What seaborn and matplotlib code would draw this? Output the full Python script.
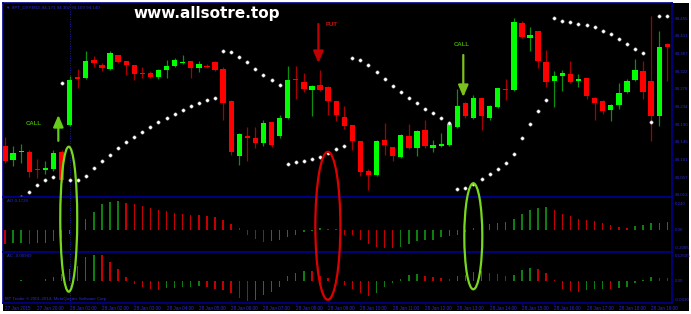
import numpy as np
import pandas as pd
import matplotlib
matplotlib.use("Agg")
import matplotlib.pyplot as plt
import seaborn as sns
from matplotlib.patches import Ellipse, Rectangle
from matplotlib.transforms import blended_transform_factory

# ---------------- data (M15 candles) ----------------
opens = [94.1350, 94.1000, 94.1213, 94.1200, 94.0775, 94.0738, 94.0763, 94.1188, 94.1875, 94.3063,
         94.3050, 94.3488, 94.3363, 94.3263, 94.3613, 94.3463, 94.3363, 94.3163, 94.3163, 94.3063,
         94.3250, 94.3350, 94.3438, 94.3463, 94.3288, 94.3350, 94.3438, 94.3275, 94.2463, 94.1088,
         94.1588, 94.1538, 94.1413, 94.1938, 94.1588, 94.2038, 94.3025, 94.2938, 94.2738, 94.2863,
         94.2813, 94.2463, 94.2063, 94.1863, 94.1463, 94.0713, 94.0625, 94.1488, 94.1313, 94.1063,
         94.1588, 94.1288, 94.1750, 94.1288, 94.1338, 94.1363, 94.1813, 94.2413, 94.2038, 94.2538,
         94.2038, 94.2313, 94.2775, 94.2750, 94.4413, 94.4038, 94.4213, 94.3438, 94.2975, 94.3100,
         94.3150, 94.2988, 94.3038, 94.2538, 94.2463, 94.2238, 94.2375, 94.2688, 94.2988, 94.3225,
         94.2963, 94.2088, 94.3888]
highs = [94.1575, 94.1350, 94.1400, 94.1250, 94.1025, 94.0975, 94.1250, 94.1250, 94.3100, 94.3275,
         94.3725, 94.3600, 94.3425, 94.3713, 94.3625, 94.3475, 94.3375, 94.3325, 94.3225, 94.3275,
         94.3500, 94.3550, 94.3625, 94.3475, 94.3475, 94.3400, 94.3475, 94.3325, 94.2500, 94.1675,
         94.1825, 94.1825, 94.2000, 94.1950, 94.2125, 94.3350, 94.3338, 94.3163, 94.2875, 94.3250,
         94.2850, 94.2475, 94.2350, 94.1875, 94.1475, 94.0763, 94.1500, 94.1913, 94.1325, 94.1650,
         94.1900, 94.1750, 94.1988, 94.1500, 94.1663, 94.1963, 94.2775, 94.2450, 94.2625, 94.2550,
         94.2375, 94.2800, 94.3013, 94.4538, 94.4463, 94.4313, 94.4225, 94.3738, 94.3225, 94.3238,
         94.3475, 94.3150, 94.3050, 94.2575, 94.2500, 94.2400, 94.2913, 94.3025, 94.3513, 94.3475,
         94.4600, 94.4213, 94.3925]
lows = [94.0925, 94.0850, 94.0925, 94.0575, 94.0550, 94.0650, 94.0725, 94.0450, 94.1850, 94.2800,
        94.3025, 94.3325, 94.3225, 94.3250, 94.3425, 94.3125, 94.3000, 94.3050, 94.3050, 94.3025,
        94.3050, 94.3325, 94.3400, 94.3050, 94.3200, 94.3300, 94.3225, 94.2000, 94.1125, 94.0875,
        94.0975, 94.1300, 94.1350, 94.1325, 94.1550, 94.2025, 94.2525, 94.2688, 94.2088, 94.2725,
        94.2125, 94.1963, 94.1763, 94.1238, 94.0588, 94.0238, 94.0600, 94.1125, 94.0963, 94.1050,
        94.1275, 94.1088, 94.1300, 94.1188, 94.1325, 94.1350, 94.1800, 94.2038, 94.2025, 94.1750,
        94.2000, 94.2300, 94.2500, 94.2725, 94.4050, 94.3713, 94.3288, 94.2813, 94.2313, 94.2713,
        94.2913, 94.2813, 94.2525, 94.2000, 94.2150, 94.1963, 94.2263, 94.2675, 94.2975, 94.2525,
        94.1463, 94.1838, 94.2975]
closes = [94.0975, 94.1175, 94.1225, 94.0700, 94.0763, 94.0788, 94.1163, 94.0500, 94.3000, 94.3025,
          94.3475, 94.3413, 94.3288, 94.3663, 94.3438, 94.3375, 94.3138, 94.3150, 94.3063, 94.3238,
          94.3350, 94.3488, 94.3450, 94.3288, 94.3388, 94.3338, 94.3250, 94.2413, 94.1200, 94.1638,
          94.1550, 94.1413, 94.1913, 94.1363, 94.2038, 94.3000, 94.3000, 94.2775, 94.2850, 94.2738,
          94.2463, 94.2113, 94.1850, 94.1463, 94.0688, 94.0625, 94.1463, 94.1363, 94.1088, 94.1625,
          94.1288, 94.1713, 94.1338, 94.1375, 94.1400, 94.1888, 94.2350, 94.2088, 94.2538, 94.2088,
          94.2338, 94.2788, 94.2763, 94.4438, 94.4063, 94.4125, 94.3463, 94.2938, 94.3100, 94.3175,
          94.2938, 94.3013, 94.2588, 94.2413, 94.2213, 94.2375, 94.2663, 94.2963, 94.3238, 94.2688,
          94.2088, 94.3813, 94.3813]
# Parabolic SAR dots
sar = [93.9750, 93.9925, 94.0075, 94.0208, 94.0375, 94.0500, 94.0568, 94.2918, 94.0500, 94.0500,
       94.0608, 94.0793, 94.0975, 94.1133, 94.1293, 94.1443, 94.1583, 94.1708, 94.1833, 94.1950,
       94.2050, 94.2150, 94.2250, 94.2343, 94.2418, 94.2500, 94.2558, 94.3733, 94.3700, 94.3583,
       94.3443, 94.3275, 94.3125, 94.3000, 94.2875, 94.0900, 94.0943, 94.0983, 94.1025, 94.1083,
       94.1175, 94.1263, 94.1358, 94.3543, 94.3500, 94.3375, 94.3208, 94.3018, 94.2850, 94.2693,
       94.2558, 94.2418, 94.2283, 94.2168, 94.2050, 94.1933, 94.0268, 94.0293, 94.0400, 94.0518,
       94.0650, 94.0768, 94.0918, 94.1143, 94.1543, 94.1900, 94.2225, 94.2500, 94.4543, 94.4483,
       94.4443, 94.4408, 94.4368, 94.4318, 94.4233, 94.4150, 94.4018, 94.3893, 94.3775, 94.3668,
       94.1958, 94.4608, 94.4608]
# Awesome Oscillator
ao = [-0.126, -0.123, -0.120, -0.126, -0.120, -0.117, -0.102, -0.075, -0.039, 0.024,
      0.093, 0.159, 0.228, 0.249, 0.258, 0.243, 0.228, 0.210, 0.195, 0.174,
      0.168, 0.150, 0.144, 0.135, 0.129, 0.123, 0.114, 0.084, 0.054, 0.015,
      -0.045, -0.084, -0.111, -0.105, -0.090, -0.066, -0.045, -0.021, -0.009, 0.015,
      0.009, 0.003, -0.045, -0.051, -0.096, -0.129, -0.156, -0.165, -0.168, -0.156,
      -0.129, -0.105, -0.096, -0.090, -0.069, -0.060, -0.045, -0.024, 0.012, 0.030,
      0.051, 0.060, 0.069, 0.096, 0.144, 0.174, 0.195, 0.204, 0.174, 0.144,
      0.120, 0.096, 0.084, 0.075, 0.063, 0.042, 0.027, 0.018, 0.033, 0.042,
      0.057, 0.063, 0.072]
# Accelerator Oscillator
ac = [-0.0015, -0.0030, 0.0015, -0.0015, 0.0000, 0.0075, 0.0150, 0.0300, 0.0510, 0.0675,
      0.1050, 0.1170, 0.1155, 0.0855, 0.0510, 0.0150, -0.0150, -0.0300, -0.0390, -0.0405,
      -0.0345, -0.0330, -0.0300, -0.0270, -0.0240, -0.0300, -0.0390, -0.0420, -0.0540, -0.0780,
      -0.0900, -0.0870, -0.0645, -0.0495, -0.0270, 0.0210, 0.0360, 0.0450, 0.0420, 0.0225,
      0.0105, 0.0030, -0.0195, -0.0390, -0.0570, -0.0690, -0.0540, -0.0270, -0.0120, 0.0060,
      0.0255, 0.0300, 0.0225, 0.0150, 0.0120, 0.0090, 0.0225, 0.0270, 0.0390, 0.0450,
      0.0360, 0.0285, 0.0210, 0.0255, 0.0480, 0.0555, 0.0510, 0.0360, 0.0015, -0.0375,
      -0.0465, -0.0495, -0.0405, -0.0375, -0.0360, -0.0390, -0.0345, -0.0270, -0.0120, 0.0030,
      0.0150, 0.0135, 0.0105]

price_ticks = [94.455, 94.411, 94.367, 94.322, 94.278, 94.234, 94.190, 94.146, 94.101, 94.057, 94.013]
price_tick_labels = ["94.455", "94.411", "94.367", "94.322", "94.278", "94.234",
                     "94.190", "94.146", "94.101", "94.057", "94.013"]
ao_ticks = [0.240, 0.0, -0.158]
ao_tick_labels = ["0.240", "0.00", "-0.2006"]
ac_ticks = [0.1143, 0.0, -0.0837]
ac_tick_labels = ["0.12595", "0.00", "-0.0930"]
time_bars = list(range(0, 83, 4))
time_labels = ["27 Jan 2015", "27 Jan 20:00", "28 Jan 01:00", "28 Jan 02:00", "28 Jan 03:00",
               "28 Jan 04:00", "28 Jan 05:00", "28 Jan 06:00", "28 Jan 07:00", "28 Jan 08:00",
               "28 Jan 09:00", "28 Jan 10:00", "28 Jan 11:00", "28 Jan 12:00", "28 Jan 13:00",
               "28 Jan 14:00", "28 Jan 15:00", "28 Jan 16:00", "28 Jan 17:00", "28 Jan 18:00",
               "28 Jan 19:00"]
title_text = "\u25bc SPT_DXY,M15 94.171 94.302 94.109 94.140"

# ---------------- style ----------------
sns.set_theme(style="dark")
plt.rcParams['font.family'] = ['Liberation Sans', 'DejaVu Sans']

W_PX, H_PX = 691, 314
fig = plt.figure(figsize=(W_PX / 100, H_PX / 100), dpi=100, facecolor='white')


def fx(px):
    return px / W_PX


def fy(py):
    return 1 - py / H_PX


fig.add_artist(Rectangle((fx(3), fy(311)), fx(689) - fx(3), fy(3) - fy(311),
                         transform=fig.transFigure, facecolor='black',
                         edgecolor='none', zorder=-1))

left, right = fx(3), fx(672)
ax_main = fig.add_axes([left, fy(197), right - left, fy(3) - fy(197)])
ax_ao = fig.add_axes([left, fy(252), right - left, fy(197) - fy(252)])
ax_ac = fig.add_axes([left, fy(303), right - left, fy(252) - fy(303)])

NAVY = '#00008b'
LABEL = '#2a2ad0'
SMALL = 3.2

df = pd.DataFrame({'open': opens, 'high': highs, 'low': lows, 'close': closes,
                   'sar': sar, 'ao': ao, 'ac': ac})
df['bar'] = np.arange(len(df))

# ---------------- candles ----------------
rising = (df['close'] >= df['open']).to_numpy()
wick_col = np.where(rising, '#0c8f0c', '#a80000')
body_col = np.where(rising, '#00ff00', '#ff0000')
mid = (df['open'] + df['close']) / 2
body_h = (df['close'] - df['open']).abs().clip(lower=0.0028)
ax_main.vlines(df['bar'], df['low'], df['high'], colors=wick_col, lw=0.9, zorder=2)
ax_main.bar(df['bar'], body_h, bottom=mid - body_h / 2, width=0.66,
            color=body_col, linewidth=0, zorder=3)
sns.scatterplot(data=df, x='bar', y='sar', ax=ax_main, color='white', s=6,
                edgecolor='#9a9a9a', linewidth=0.3, zorder=4, legend=False)

# ---------------- oscillators ----------------
df['ao_dir'] = np.where(df['ao'].diff().fillna(-1) > 0, 'up', 'down')
df['ac_dir'] = np.where(df['ac'].diff().fillna(-1) > 0, 'up', 'down')
pal = {'up': '#0f7d0f', 'down': '#c40000'}
sns.barplot(data=df, x='bar', y='ao', hue='ao_dir', palette=pal, native_scale=True,
            width=0.17, dodge=False, legend=False, errorbar=None, ax=ax_ao,
            linewidth=0, saturation=1)
sns.barplot(data=df, x='bar', y='ac', hue='ac_dir', palette=pal, native_scale=True,
            width=0.17, dodge=False, legend=False, errorbar=None, ax=ax_ac,
            linewidth=0, saturation=1)

for ax in (ax_main, ax_ao, ax_ac):
    ax.set_facecolor('black')
    ax.grid(False)
    ax.set_xlim(-0.25, 82.58)
    ax.set_xlabel('')
    ax.set_ylabel('')
    for s in ax.spines.values():
        s.set_visible(True)
        s.set_color(NAVY)
        s.set_linewidth(1.2)
    ax.axvline(8, color='#1c1ca0', ls=(0, (1, 1.5)), lw=0.7, zorder=1)
    ax.yaxis.tick_right()
    ax.tick_params(axis='y', left=False, right=True, length=1.5, width=0.5, color=NAVY,
                   labelsize=SMALL, labelcolor=LABEL, pad=0.8)

ax_main.set_ylim(94.0075, 94.4925)
ax_main.set_yticks(price_ticks, price_tick_labels)
ax_main.set_xticks([])
ax_ao.set_ylim(-0.2007, 0.294)
ax_ao.set_yticks(ao_ticks, ao_tick_labels)
ax_ao.set_xticks([])
ax_ac.set_ylim(-0.1004, 0.129)
ax_ac.set_yticks(ac_ticks, ac_tick_labels)
ax_ac.set_xticks(time_bars, time_labels)
for t in ax_ac.get_xticklabels():
    t.set_ha('left')
ax_ac.tick_params(axis='x', bottom=True, length=1.5, width=0.5, color=NAVY,
                  labelsize=3.3, labelcolor=LABEL, pad=0.8)

# ---------------- signals ----------------
ax_main.annotate('', xy=(6.6, 94.2125), xytext=(6.6, 94.148),
                 arrowprops=dict(arrowstyle='-|>,head_width=0.3,head_length=0.7',
                                 color='#66cc1a', lw=1.6, shrinkA=0, shrinkB=0,
                                 mutation_scale=10), zorder=6)
ax_main.text(3.5, 94.191, 'CALL', fontsize=4.3, fontweight='bold', color='#41a800',
             ha='center', va='center', zorder=6)
ax_main.annotate('', xy=(56.74, 94.2575), xytext=(56.74, 94.3625),
                 arrowprops=dict(arrowstyle='-|>,head_width=0.3,head_length=0.7',
                                 color='#7cc21c', lw=1.6, shrinkA=0, shrinkB=0,
                                 mutation_scale=10), zorder=6)
ax_main.text(56.5, 94.3875, 'CALL', fontsize=4.3, fontweight='bold', color='#41a800',
             ha='center', va='center', zorder=6)
ax_main.annotate('', xy=(38.8, 94.3425), xytext=(38.8, 94.440),
                 arrowprops=dict(arrowstyle='-|>,head_width=0.3,head_length=0.7',
                                 color='#c00000', lw=1.6, shrinkA=0, shrinkB=0,
                                 mutation_scale=10), zorder=6)
ax_main.text(40.4, 94.440, 'PUT', fontsize=4.3, fontweight='bold', color='#c81010',
             ha='center', va='center', zorder=6)

tr = blended_transform_factory(ax_main.transData, fig.transFigure)
for cx, cy, w, h, col in [(7.89, fy(219.2), 2.1, 145 / H_PX, '#78d81c'),
                          (39.97, fy(225.8), 3.1, 148 / H_PX, '#dd0000'),
                          (57.98, fy(236.3), 2.23, 106 / H_PX, '#78d81c')]:
    e = Ellipse((cx, cy), width=w, height=h, transform=tr, fill=False,
                edgecolor=col, lw=1.6, zorder=10)
    fig.add_artist(e)

# ---------------- texts ----------------
fig.text(fx(133), fy(13.5), "www.allsotre.top", fontsize=11, fontweight='bold',
         color='white', va='center', ha='left', family='DejaVu Sans')
fig.text(fx(6), fy(7.5), title_text, fontsize=SMALL, color=LABEL, va='center', ha='left')
fig.text(fx(7), fy(201), "AO 0.1726", fontsize=SMALL, color=LABEL, va='center', ha='left')
fig.text(fx(7), fy(256), "AC -0.00949", fontsize=SMALL, color=LABEL, va='center', ha='left')
fig.text(fx(5), fy(299), "MT Trader \u00ae 2001-2014, MetaQuotes Software Corp.",
         fontsize=SMALL, color=LABEL, va='center', ha='left')

fig.savefig('out.png', dpi=100, facecolor='white')
